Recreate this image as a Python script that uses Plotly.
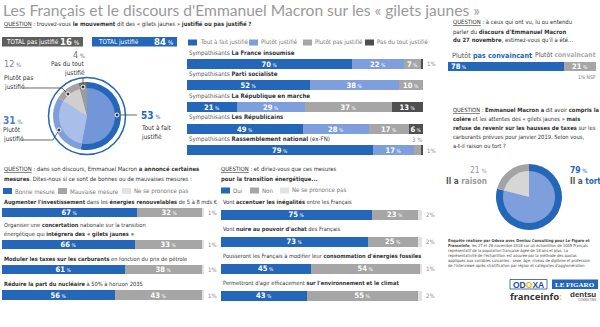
import plotly.graph_objects as go

W, H = 600, 327
def X(px): return px / W
def Y(py): return 1 - py / H

BLUE = "#2467b8"
LBLUE = "#7f9fdc"
GREY = "#a6a6a6"
DGREY = "#4f4f4f"
NSPC = "#e2e2e2"
TXT = "#333333"
SOFT = "#8a8a8a"
FONT = "Liberation Sans Narrow, DejaVu Sans Condensed, Liberation Sans, sans-serif"
QS = 5.9     # question text size
LS = 6.1     # row label size
GS = 6.1     # legend size

# ---------------- DATA ----------------
title = "Les Français et le discours d'Emmanuel Macron sur les « gilets jaunes »"

mov_labels = ["Tout à fait justifié", "Plutôt justifié", "Plutôt pas justifié", "Pas du tout justifié"]
mov_values = [53, 31, 12, 4]
total_pas_justifie = 16
total_justifie = 84

parties = ["La France insoumise", "Parti socialiste", "La République en marche",
           "Les Républicains", "Rassemblement national"]
party_suffix = ["", "", "", "", " (ex-FN)"]
p_tout = [70, 52, 21, 49, 79]
p_plutot = [22, 38, 29, 28, 17]
p_plutot_pas = [7, 10, 37, 17, 3]
p_pas_du_tout = [1, 0, 13, 6, 1]

conv_labels = ["Plutôt pas convaincant", "Plutôt convaincant", "NSP"]
conv_values = [78, 21, 1]

raison_labels = ["Il a tort", "Il a raison"]
raison_values = [79, 21]

mesures_keys = ["renouvelables", "concertation", "taxes", "nucleaire"]
mesures_lines = [
    ["<b>Augmenter l'investissement</b> dans les <b>énergies renouvelables</b> de 5 à 8 mds €"],
    ["Organiser une <b>concertation</b> nationale sur la transition",
     "énergétique qui <b>intégrera des « gilets jaunes »</b>"],
    ["<b>Moduler les taxes sur les carburants</b> en fonction du prix de pétrole"],
    ["<b>Réduire la part du nucléaire</b> à 50% à horizon 2035"],
]
m_bonne = [67, 66, 61, 56]
m_mauvaise = [32, 33, 38, 43]
m_nsp = [1, 1, 1, 1]

trans_keys = ["inegalites", "pouvoir", "fossiles", "climat"]
trans_lines = [
    ["Vont <b>accentuer les inégalités</b> entre les Français"],
    ["Vont <b>nuire au pouvoir d'achat</b> des Français"],
    ["Pousseront les Français à modifier leur <b>consommation d'énergies fossiles</b>"],
    ["Permettront d'agir efficacement <b>sur l'environnement et le climat</b>"],
]
t_oui = [75, 73, 45, 43]
t_non = [23, 25, 54, 55]
t_nsp = [2, 2, 1, 2]

# ---------------- HELPERS ----------------
fig = go.Figure()
ann = []
shapes = []
layout_axes = {}


def txt(x, y, text, size=QS, color=TXT, anchor="left", vanchor="middle", family=FONT, **kw):
    font = dict(size=size, color=color, family=family)
    ann.append(dict(x=X(x), y=Y(y), xref="paper", yref="paper", text=text, showarrow=False,
                    xanchor=anchor, yanchor=vanchor, align=anchor if anchor != "center" else "center",
                    font=font, borderpad=0, **kw))


def rect(x0, y0, x1, y1, color, line=None):
    shapes.append(dict(type="rect", xref="paper", yref="paper", x0=X(x0), x1=X(x1), y0=Y(y1), y1=Y(y0),
                       fillcolor=color, line=line or dict(width=0), layer="below"))


def path(points, color="#444", width=0.8):
    d = "M " + " L ".join(f"{X(a):.5f},{Y(b):.5f}" for a, b in points)
    shapes.append(dict(type="path", xref="paper", yref="paper", path=d, line=dict(color=color, width=width)))


def dot(x, y, r=2.0):
    shapes.append(dict(type="circle", xref="paper", yref="paper", x0=X(x - r), x1=X(x + r),
                       y0=Y(y + r), y1=Y(y - r), fillcolor="#333", line=dict(color="white", width=1)))


def pct(v, small=5):
    return f"<b>{v}</b><span style='font-size:{small}px'> %</span>"


def stacked(idx, cats, series, colors, x0, x1, c0, spacing, bar_h, start_anchor=None):
    n = len(cats)
    top = c0 - spacing / 2
    bot = c0 + (n - 1) * spacing + spacing / 2
    sfx = "" if idx == 1 else str(idx)
    layout_axes["xaxis" + sfx] = dict(domain=[X(x0), X(x1)], range=[0, 100], visible=False,
                                      fixedrange=True, anchor="y" + sfx)
    layout_axes["yaxis" + sfx] = dict(domain=[Y(bot), Y(top)], range=[n - 0.5, -0.5], visible=False,
                                      fixedrange=True, anchor="x" + sfx, type="category")
    for s, (vals, col) in enumerate(zip(series, colors)):
        texts = [pct(v) if v >= 5 else "" for v in vals]
        fig.add_trace(go.Bar(
            x=vals, y=cats, orientation="h", width=bar_h / spacing,
            marker=dict(color=col, line=dict(width=0)),
            text=texts, textposition="inside", textangle=0,
            insidetextanchor=(start_anchor if (start_anchor and s == 0) else "middle"),
            textfont=dict(color="white", size=7.5, family=FONT),
            hoverinfo="skip", showlegend=False, xaxis="x" + sfx, yaxis="y" + sfx))
    for i in range(n):
        cum = 0
        for s, vals in enumerate(series):
            v = vals[i]
            if 0 < v < 5:
                if s == len(series) - 1:
                    ann.append(dict(x=100, y=i, xref="x" + sfx, yref="y" + sfx, text=f"{v}%",
                                    showarrow=False, xanchor="left", yanchor="middle", xshift=2,
                                    font=dict(size=6, color=SOFT, family=FONT)))
                else:
                    ann.append(dict(x=cum + v / 2, y=i, xref="x" + sfx, yref="y" + sfx, text=f"{v} %",
                                    showarrow=False, xanchor="center", yanchor="middle", yshift=11,
                                    font=dict(size=6, color=SOFT, family=FONT)))
            cum += v
    return sfx


def row_labels(sfx, lines_list, offset=11, lh=8.3, size=LS):
    for i, lines in enumerate(lines_list):
        k = len(lines)
        for j, line in enumerate(lines):
            ann.append(dict(x=0, y=i, xref="x" + sfx, yref="y" + sfx, text=line, showarrow=False,
                            xanchor="left", yanchor="middle", yshift=offset + (k - 1 - j) * lh,
                            font=dict(size=size, color=TXT, family=FONT)))


def legend_item(x, y, color, label, w=9, h=6):
    rect(x, y - h / 2, x + w, y + h / 2, color)
    txt(x + w + 2, y, label, size=GS, color="#777")


# ---------------- TITLE ----------------
txt(2, 9.5, title, size=15.6, color="#9a9a9a", family="Lato, Open Sans, sans-serif")

# ---------------- TOP LEFT : pie ----------------
txt(3, 24, "<u>QUESTION</u> : trouvez-vous <b>le mouvement</b> dit des « gilets jaunes » "
    "<b>justifié ou pas justifié ?</b>")

rect(2, 37, 83, 46.5, "#5f5f5f")
txt(5, 41.8, "TOTAL pas justifié", size=6.4, color="white")
txt(81, 41.5, f"<b>{total_pas_justifie}</b><span style='font-size:6.5px'> %</span>", size=9.5,
    color="white", anchor="right")
rect(92, 37, 177, 46.5, BLUE)
txt(97, 41.8, "TOTAL justifié", size=6.4, color="white")
txt(175, 41.5, f"<b>{total_justifie}</b><span style='font-size:6.5px'> %</span>", size=9.5,
    color="white", anchor="right")

cx, cy = 87, 116
outer_cols = [BLUE, LBLUE, "#a3a3a3", "#6e6e6e"]
inner_cols = ["#7296d8", "#a9bfe9", "#cfcfcf", "#9b9b9b"]
for r, cols in [(34, outer_cols), (28, inner_cols)]:
    fig.add_trace(go.Pie(values=mov_values, labels=mov_labels, sort=False, direction="clockwise",
                         rotation=0, textinfo="none", hoverinfo="skip", showlegend=False,
                         marker=dict(colors=cols, line=dict(width=0)),
                         domain=dict(x=[X(cx - r), X(cx + r)], y=[Y(cy + r), Y(cy - r)])))
shapes.append(dict(type="circle", xref="paper", yref="paper", x0=X(cx - 38.5), x1=X(cx + 38.5),
                   y0=Y(cy + 38.5), y1=Y(cy - 38.5), line=dict(color=BLUE, width=1.5)))

# pie labels
txt(86, 55, f"{mov_values[3]}<span style='font-size:6px'> %</span>", size=9, color="#777", anchor="right")
txt(86, 64, "Pas du tout", size=6.5, anchor="right")
txt(86, 73, "justifié", size=6.5, anchor="right")
path([(83, 78), (83, 87)])
dot(83, 87)

txt(3, 64, f"{mov_values[2]}<span style='font-size:6px'> %</span>", size=9, color="#7a8699")
txt(3, 78, "Plutôt pas", size=6.5)
txt(3, 87, "justifié", size=6.5)
path([(23, 88), (62, 88), (68, 94)])
dot(68, 94)

txt(2, 120, f"<b>{mov_values[1]}</b><span style='font-size:6px'> %</span>", size=10, color="#4f7cc9")
txt(2, 129.5, "Plutôt", size=6.5)
txt(2, 138.5, "justifié", size=6.5)
path([(22, 140), (53, 140), (59, 130)])
dot(59, 130)

txt(140, 116, f"<b>{mov_values[0]}</b><span style='font-size:6px'> %</span>", size=10, color=BLUE)
txt(140, 128, "Tout à fait", size=6.5)
txt(140, 137, "justifié", size=6.5)
path([(117, 115), (137, 115)])
dot(117, 115)

# ---------------- TOP MIDDLE : parties ----------------
party_cols = [BLUE, LBLUE, GREY, DGREY]
legend_item(188, 42.5, BLUE, mov_labels[0])
legend_item(249, 42.5, LBLUE, mov_labels[1])
legend_item(303, 42.5, GREY, mov_labels[2])
legend_item(365, 42.5, DGREY, mov_labels[3])
sfx = stacked(1, parties, [p_tout, p_plutot, p_plutot_pas, p_pas_du_tout], party_cols,
              187, 423, 64, 21.6, 10)
row_labels(sfx, [[f"<span style='color:#555'>Sympathisants</span> <b>{p}</b>{s}"]
                 for p, s in zip(parties, party_suffix)], offset=11.3)

# ---------------- TOP RIGHT : convaincant ----------------
txt(452, 23, "<u>QUESTION</u> : à ceux qui ont vu, lu ou entendu")
txt(452, 32, "parler du <b>discours d'Emmanuel Macron</b>")
txt(452, 41, "<b>du 27 novembre</b>, estimez-vous qu'il a été...")
txt(451, 55.5, f"Plutôt <b><span style='color:{BLUE}'>pas convaincant</span></b>", size=7.2, color="#555")
txt(597, 55.5, "Plutôt <b><span style='color:#aaaaaa'>convaincant</span></b>", size=6.7, color="#555",
    anchor="right")
sfx2 = stacked(2, ["conv"], [[conv_values[0]], [conv_values[1]], [0]], [BLUE, GREY, NSPC],
               448, 597, 65.5, 20, 9, start_anchor="start")
txt(597, 77.5, f"{conv_values[2]}% NSP", size=5, color="#777", anchor="right")

# ---------------- RIGHT : raison / tort ----------------
q2 = ["<u>QUESTION</u> : <b>Emmanuel Macron a</b> dit avoir <b>compris la</b>",
      "<b>colère</b> et les attentes des « gilets jaunes » <b>mais</b>",
      "<b>refuse de revenir sur les hausses de taxes</b> sur les",
      "carburants prévues pour janvier 2019. Selon vous,",
      "a-t-il raison ou tort ?"]
for k, line in enumerate(q2):
    txt(452, 110 + 9.1 * k, line, size=5.75)

pcx, pcy = 529, 197
for r, cols in [(33, [BLUE, "#a3a3a3"]), (26, ["#7f9fdc", "#d6d6d6"])]:
    fig.add_trace(go.Pie(values=raison_values, labels=raison_labels, sort=False, direction="clockwise",
                         rotation=0, textinfo="none", hoverinfo="skip", showlegend=False,
                         marker=dict(colors=cols, line=dict(width=0)),
                         domain=dict(x=[X(pcx - r), X(pcx + r)], y=[Y(pcy + r), Y(pcy - r)])))
txt(488, 170, f"{raison_values[1]}<span style='font-size:6px'> %</span>", size=8.5, color="#9a9a9a",
    anchor="right")
txt(488, 181, "<b>Il a</b> <b><span style='color:#9a9a9a'>raison</span></b>", size=8.2, color="#555",
    anchor="right")
txt(569, 170, f"<b>{raison_values[0]}</b><span style='font-size:6px'> %</span>", size=8.5, color=BLUE)
txt(569, 181, f"<b>Il a</b> <b><span style='color:{BLUE}'>tort</span></b>", size=8.2, color="#555")

# ---------------- BOTTOM LEFT : mesures ----------------
txt(3, 169, "<u>QUESTION</u> : dans son discours, Emmanuel Macron <b>a annoncé certaines</b>")
txt(3, 179, "<b>mesures</b>. Dites-nous si ce sont de bonnes ou de mauvaises mesures :")
legend_item(3, 191, BLUE, "Bonne mesure")
legend_item(58, 191, GREY, "Mauvaise mesure")
legend_item(122, 191, NSPC, "Ne se prononce pas")
m_cols = [BLUE, GREY, NSPC]
s3 = stacked(3, mesures_keys[:1], [m_bonne[:1], m_mauvaise[:1], m_nsp[:1]], m_cols, 2, 204, 213, 25.3, 9.5)
row_labels(s3, mesures_lines[:1], offset=10.5, size=5.7)
s4 = stacked(4, mesures_keys[1:], [m_bonne[1:], m_mauvaise[1:], m_nsp[1:]], m_cols, 2, 204, 244.8, 25.1, 9.5)
row_labels(s4, mesures_lines[1:], offset=10.8, size=5.7)

# ---------------- BOTTOM MIDDLE : transition ----------------
txt(220, 170, "<u>QUESTION</u> : et diriez-vous que ces mesures")
txt(220, 179, "<b>pour la transition énergétique...</b>")
legend_item(221, 190.5, BLUE, "Oui")
legend_item(250, 190.5, GREY, "Non")
legend_item(280, 190.5, NSPC, "Ne se prononce pas")
s5 = stacked(5, trans_keys, [t_oui, t_non, t_nsp], m_cols, 221, 422, 214.2, 27, 10)
row_labels(s5, trans_lines, offset=11.3, size=5.7)

# ---------------- FOOTNOTE & LOGOS ----------------
foot = ["<b>Enquête réalisée par Odoxa avec Dentsu Consulting pour Le Figaro et</b>",
        "<b>Franceinfo</b>, les 27 et 28 novembre 2018 sur un échantillon de 1005 Français",
        "représentatif de la population française âgée de 18 ans et plus. La",
        "représentativité de l'échantillon est assurée par la méthode des quotas",
        "appliqués aux variables suivantes : sexe, âge, niveau de diplôme et profession",
        "de l'interviewé après stratification par région et catégories d'agglomération"]
for k, line in enumerate(foot):
    txt(447, 240 + 5 * k, line, size=4.0, color="#444")

rect(510, 279.5, 547, 289, "white", line=dict(color="#1d4f9c", width=0.8))
txt(528.5, 284.5, "<b>OD<span style='color:#f5b400'>O</span>XA</b>", size=8.5, color="#1d4f9c",
    anchor="center", family="Liberation Sans, sans-serif")
rect(552, 279.5, 598, 289, BLUE)
txt(575, 284.5, "<b>LE FIGARO</b>", size=7, color="white", anchor="center",
    family="Liberation Serif, DejaVu Serif, serif")
txt(509, 296, "<b>franceinfo<span style='color:#f5c400'>:</span></b>", size=9.6, color="#333",
    family="Noto Sans, Liberation Sans, sans-serif")
txt(597, 294, "<b>dentsu</b>", size=8, color="#333", anchor="right",
    family="Liberation Sans, sans-serif")
txt(597, 299.5, "CONSULTING", size=2.8, color="#555", anchor="right", family="Liberation Sans, sans-serif")

fig.update_layout(
    width=W, height=H, margin=dict(l=0, r=0, t=0, b=0),
    paper_bgcolor="white", plot_bgcolor="white",
    barmode="stack", bargap=0, hovermode=False, showlegend=False,
    uniformtext=dict(minsize=7.5, mode="show"),
    annotations=ann, shapes=shapes, font=dict(family=FONT),
    **layout_axes,
)
fig.write_html("out.html")
